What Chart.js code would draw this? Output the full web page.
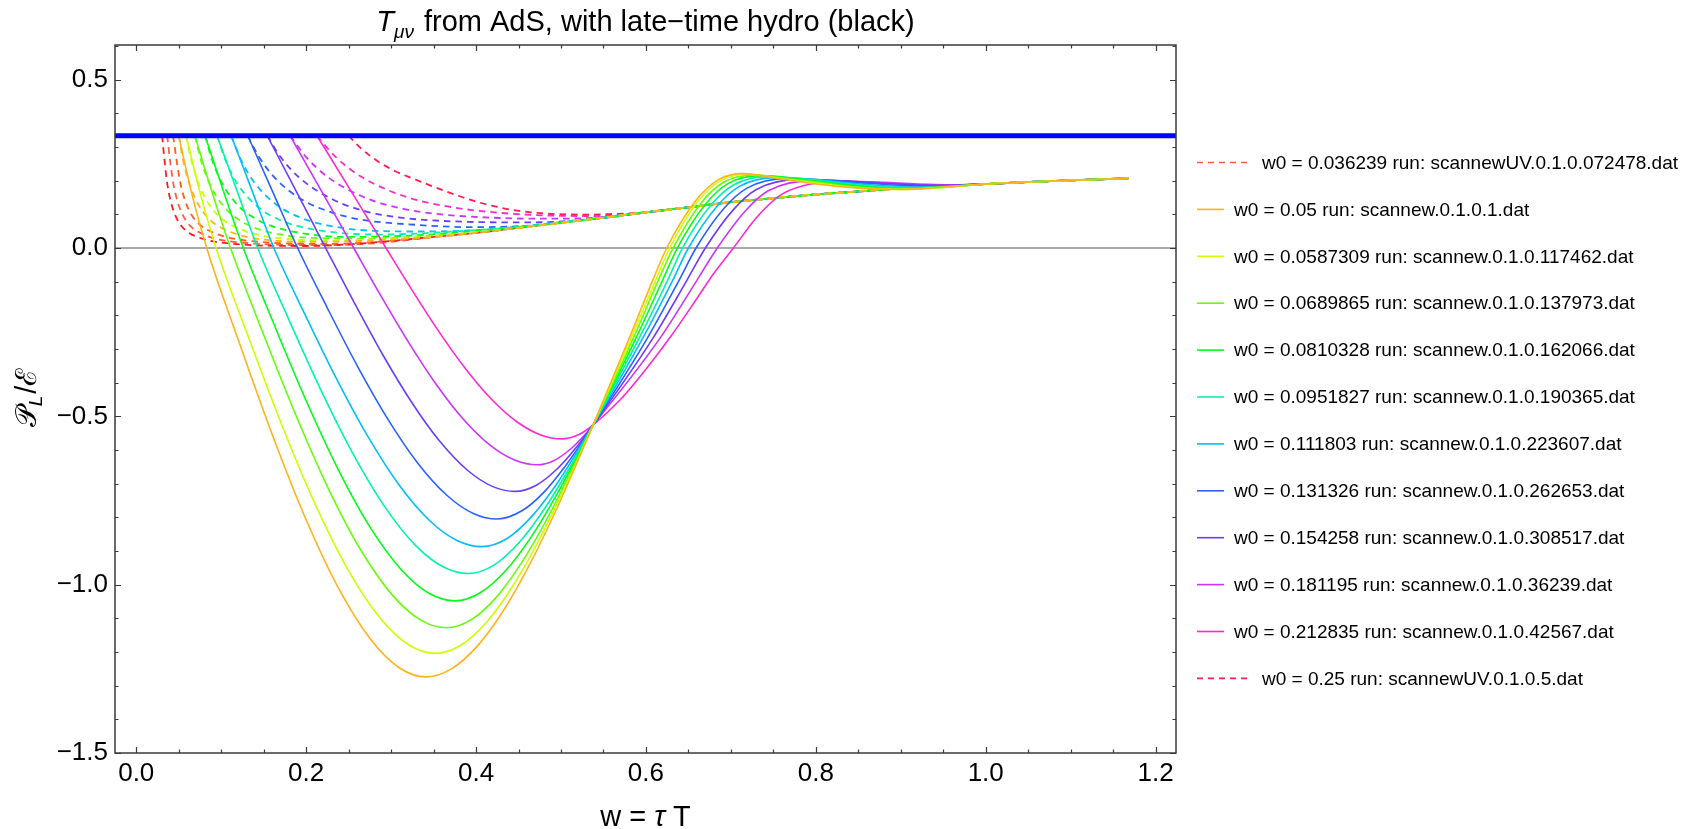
<!DOCTYPE html>
<html>
<head>
<meta charset="utf-8">
<title>T_mu_nu from AdS, with late-time hydro</title>
<script src="https://cdn.jsdelivr.net/npm/chart.js@4.4.1/dist/chart.umd.min.js"></script>
<style>
  html, body { margin: 0; padding: 0; background: #fff; }
  canvas { display: block; }
</style>
</head>
<body>
<canvas id="plChart" width="1699" height="829"></canvas>
<script>
// P_L / E versus w = tau T, one curve per AdS run
(function() {
  'use strict';

  // ---- axes ----
  var X_RANGE = [-0.025, 1.224];
  var Y_RANGE = [-1.5, 0.603];
  var X_TICKS = [0, 0.2, 0.4, 0.6, 0.8, 1.0, 1.2];
  var Y_TICKS = [-1.5, -1.0, -0.5, 0, 0.5];
  var HYDRO_LEVEL = [1 / 3];

  // ---- legend ----
  var LEGEND_LABELS = [
    'w0 = 0.036239 run: scannewUV.0.1.0.072478.dat',
    'w0 = 0.05 run: scannew.0.1.0.1.dat',
    'w0 = 0.0587309 run: scannew.0.1.0.117462.dat',
    'w0 = 0.0689865 run: scannew.0.1.0.137973.dat',
    'w0 = 0.0810328 run: scannew.0.1.0.162066.dat',
    'w0 = 0.0951827 run: scannew.0.1.0.190365.dat',
    'w0 = 0.111803 run: scannew.0.1.0.223607.dat',
    'w0 = 0.131326 run: scannew.0.1.0.262653.dat',
    'w0 = 0.154258 run: scannew.0.1.0.308517.dat',
    'w0 = 0.181195 run: scannew.0.1.0.36239.dat',
    'w0 = 0.212835 run: scannew.0.1.0.42567.dat',
    'w0 = 0.25 run: scannewUV.0.1.0.5.dat'
  ];
  var LEGEND_KEYS = ['uv0362', 's0', 's1', 's2', 's3', 's4', 's5', 's6', 's7', 's8', 's9', 'uv2500'];

  // ---- solid runs (w, P_L/E) ----
  var PL_W0_0500 = [[0.05,0.3333],[0.0649,0.1667],[0.083,0],[0.1217,-0.2845],[0.1604,-0.5561],[0.1991,-0.8019],[0.2378,-1.009],[0.2765,-1.1646],[0.31,-1.2476],[0.341,-1.274],[0.371,-1.25],[0.401,-1.184],[0.431,-1.082],[0.461,-0.95],[0.491,-0.796],[0.516,-0.655],[0.538,-0.525],[0.58,-0.27],[0.608,-0.096],[0.6245,0],[0.659,0.142],[0.686,0.204],[0.714,0.221],[0.757,0.206],[0.80,0.19],[0.85,0.178],[0.90,0.174],[0.95,0.181]];
  var PL_W0_0587 = [[0.0587,0.3333],[0.0749,0.1667],[0.094,0],[0.1327,-0.2689],[0.1714,-0.5255],[0.2101,-0.7578],[0.2488,-0.9536],[0.2875,-1.1006],[0.321,-1.1791],[0.352,-1.204],[0.382,-1.18],[0.412,-1.1125],[0.442,-1.009],[0.472,-0.878],[0.502,-0.725],[0.538,-0.525],[0.5823,-0.27],[0.6114,-0.096],[0.628,0],[0.661,0.138],[0.688,0.2],[0.72,0.219],[0.763,0.205],[0.80,0.193],[0.85,0.179],[0.90,0.174],[0.95,0.18]];
  var PL_W0_0690 = [[0.069,0.3333],[0.0892,0.1667],[0.111,0],[0.1491,-0.2519],[0.1872,-0.4924],[0.2253,-0.71],[0.2634,-0.8934],[0.3015,-1.0311],[0.3345,-1.1046],[0.365,-1.128],[0.395,-1.103],[0.425,-1.034],[0.455,-0.9295],[0.485,-0.798],[0.515,-0.6475],[0.538,-0.525],[0.5848,-0.27],[0.6146,-0.096],[0.632,0],[0.665,0.134],[0.692,0.196],[0.727,0.217],[0.77,0.205],[0.81,0.193],[0.85,0.181],[0.90,0.175],[0.95,0.18]];
  var PL_W0_0810 = [[0.081,0.3333],[0.103,0.1667],[0.126,0],[0.1634,-0.234],[0.2007,-0.4575],[0.2381,-0.6596],[0.2754,-0.83],[0.3128,-0.958],[0.3451,-1.0263],[0.375,-1.048],[0.405,-1.024],[0.435,-0.958],[0.465,-0.858],[0.495,-0.7326],[0.52,-0.6145],[0.538,-0.525],[0.5879,-0.27],[0.6195,-0.096],[0.637,0],[0.67,0.13],[0.697,0.192],[0.735,0.215],[0.78,0.205],[0.82,0.192],[0.86,0.182],[0.90,0.177],[0.95,0.181]];
  var PL_W0_0952 = [[0.0952,0.3333],[0.1191,0.1667],[0.143,0],[0.1802,-0.2159],[0.2174,-0.4221],[0.2546,-0.6086],[0.2918,-0.7659],[0.329,-0.8839],[0.3612,-0.947],[0.391,-0.967],[0.421,-0.942],[0.451,-0.874],[0.481,-0.773],[0.511,-0.649],[0.538,-0.525],[0.5916,-0.27],[0.6255,-0.096],[0.643,0],[0.676,0.126],[0.703,0.187],[0.744,0.212],[0.79,0.204],[0.83,0.192],[0.87,0.183],[0.91,0.179],[0.95,0.182]];
  var PL_W0_1118 = [[0.1118,0.3333],[0.1369,0.1667],[0.162,0],[0.1988,-0.1981],[0.2355,-0.3872],[0.2723,-0.5583],[0.309,-0.7025],[0.3458,-0.8108],[0.3776,-0.8686],[0.407,-0.887],[0.437,-0.862],[0.467,-0.7935],[0.497,-0.6934],[0.517,-0.614],[0.538,-0.525],[0.5958,-0.27],[0.6315,-0.096],[0.65,0],[0.683,0.122],[0.71,0.183],[0.754,0.209],[0.80,0.203],[0.84,0.193],[0.88,0.185],[0.92,0.181],[0.96,0.184]];
  var PL_W0_1313 = [[0.1313,0.3333],[0.1607,0.1667],[0.19,0],[0.2253,-0.1798],[0.2605,-0.3514],[0.2958,-0.5067],[0.331,-0.6376],[0.3663,-0.7359],[0.3968,-0.7884],[0.425,-0.805],[0.455,-0.779],[0.48,-0.725],[0.505,-0.648],[0.522,-0.587],[0.538,-0.525],[0.6012,-0.27],[0.639,-0.096],[0.659,0],[0.692,0.118],[0.719,0.178],[0.766,0.206],[0.81,0.202],[0.85,0.194],[0.89,0.187],[0.93,0.184],[0.96,0.185]];
  var PL_W0_1543 = [[0.1543,0.3333],[0.1887,0.1667],[0.223,0],[0.2565,-0.1614],[0.2899,-0.3156],[0.3234,-0.4551],[0.3568,-0.5726],[0.3903,-0.6609],[0.4192,-0.708],[0.446,-0.723],[0.471,-0.7046],[0.496,-0.655],[0.516,-0.5988],[0.538,-0.525],[0.6077,-0.27],[0.6482,-0.096],[0.67,0],[0.703,0.114],[0.73,0.174],[0.78,0.203],[0.82,0.201],[0.86,0.195],[0.90,0.189],[0.94,0.186],[0.97,0.187]];
  var PL_W0_1812 = [[0.1812,0.3333],[0.2186,0.1667],[0.256,0],[0.2884,-0.1438],[0.3208,-0.2811],[0.3532,-0.4053],[0.3856,-0.51],[0.418,-0.5887],[0.4461,-0.6307],[0.472,-0.644],[0.492,-0.631],[0.512,-0.5955],[0.527,-0.5575],[0.538,-0.525],[0.616,-0.27],[0.66,-0.096],[0.684,0],[0.717,0.11],[0.744,0.17],[0.798,0.2],[0.84,0.199],[0.88,0.195],[0.92,0.19],[0.96,0.188]];
  var PL_W0_2128 = [[0.2128,0.3333],[0.2534,0.1667],[0.294,0],[0.3251,-0.1266],[0.3561,-0.2475],[0.3872,-0.3569],[0.4182,-0.4491],[0.4493,-0.5183],[0.4762,-0.5553],[0.501,-0.567],[0.521,-0.554],[0.538,-0.525],[0.57,-0.45],[0.60,-0.36],[0.63,-0.26],[0.66,-0.15],[0.68,-0.075],[0.703,0],[0.73,0.09],[0.757,0.155],[0.785,0.185],[0.825,0.197],[0.87,0.194],[0.92,0.188],[0.96,0.187]];
  var SOLID_TAIL = [[1.0,0.190],[1.05,0.196],[1.1,0.201],[1.168,0.207]];

  // ---- dashed runs ----
  var UV_W0_0305 = [[0.0305,0.3333],[0.0335,0.255],[0.0366,0.19],[0.041,0.135],[0.046,0.097],[0.053,0.066],[0.061,0.047],[0.076,0.029],[0.092,0.019],[0.122,0.011],[0.153,0.007],[0.2,0.006],[0.25,0.011],[0.3,0.021]];
  var UV_W0_0362 = [[0.0365,0.3333],[0.04,0.255],[0.0438,0.19],[0.049,0.135],[0.055,0.097],[0.063,0.067],[0.073,0.048],[0.09,0.03],[0.11,0.02],[0.146,0.012],[0.183,0.009],[0.235,0.009],[0.29,0.016]];
  var UV_W0_0435 = [[0.0435,0.3333],[0.0478,0.255],[0.0522,0.19],[0.058,0.137],[0.065,0.099],[0.075,0.069],[0.087,0.05],[0.107,0.032],[0.13,0.022],[0.174,0.014],[0.218,0.012],[0.27,0.016],[0.32,0.026]];
  var DS_W0_0500 = [[0.05,0.3333],[0.055,0.263],[0.0625,0.191],[0.075,0.121],[0.0875,0.082],[0.1,0.06],[0.125,0.036],[0.15,0.025],[0.2,0.018],[0.25,0.02],[0.3,0.025]];
  var DS_W0_0587 = [[0.0587,0.3333],[0.0646,0.263],[0.0734,0.191],[0.088,0.121],[0.1027,0.083],[0.1174,0.061],[0.1468,0.037],[0.176,0.027],[0.235,0.022],[0.2935,0.027],[0.35,0.035],[0.4,0.046]];
  var DS_W0_0690 = [[0.069,0.3333],[0.0759,0.263],[0.0863,0.191],[0.1035,0.122],[0.1208,0.084],[0.138,0.061],[0.1725,0.039],[0.207,0.03],[0.276,0.028],[0.345,0.037],[0.4,0.047]];
  var DS_W0_0810 = [[0.081,0.3333],[0.0891,0.263],[0.1013,0.191],[0.1215,0.122],[0.1418,0.085],[0.162,0.063],[0.2025,0.041],[0.243,0.033],[0.324,0.037],[0.405,0.052],[0.45,0.062]];
  var DS_W0_0952 = [[0.0952,0.3333],[0.1047,0.263],[0.119,0.191],[0.1428,0.123],[0.1666,0.086],[0.1904,0.065],[0.238,0.045],[0.2856,0.04],[0.381,0.05],[0.45,0.063]];
  var DS_W0_1118 = [[0.1118,0.3333],[0.123,0.263],[0.1398,0.192],[0.1677,0.124],[0.1957,0.088],[0.2236,0.068],[0.2795,0.051],[0.3354,0.049],[0.4,0.053],[0.447,0.063],[0.5,0.077]];
  var DS_W0_1313 = [[0.1313,0.3333],[0.1444,0.271],[0.1641,0.206],[0.197,0.141],[0.2298,0.106],[0.2626,0.085],[0.3283,0.069],[0.394,0.062],[0.46,0.066],[0.525,0.083]];
  var DS_W0_1543 = [[0.1543,0.3333],[0.1697,0.271],[0.1929,0.207],[0.2315,0.144],[0.27,0.109],[0.3086,0.091],[0.3858,0.078],[0.463,0.076],[0.52,0.082],[0.56,0.092]];
  var DS_W0_1812 = [[0.1812,0.3333],[0.1993,0.272],[0.2265,0.209],[0.2718,0.147],[0.3171,0.115],[0.3624,0.099],[0.42,0.09],[0.47,0.087],[0.52,0.088],[0.56,0.094]];
  var DS_W0_2128 = [[0.2128,0.3333],[0.234,0.272],[0.266,0.21],[0.319,0.151],[0.3724,0.121],[0.4256,0.105],[0.48,0.097],[0.532,0.095],[0.58,0.1],[0.62,0.112]];
  var UV_W0_2500 = [[0.25,0.3333],[0.265,0.295],[0.286,0.255],[0.305,0.228],[0.326,0.206],[0.345,0.187],[0.365,0.168],[0.385,0.15],[0.404,0.135],[0.425,0.122],[0.443,0.113],[0.465,0.106],[0.483,0.102],[0.505,0.1],[0.53,0.099],[0.56,0.101],[0.6,0.106]];
  // late-time curve all runs settle onto
  var LATE_TIME = [[0.35,0.033],[0.4,0.045],[0.45,0.060],[0.5,0.075],[0.55,0.090],[0.6,0.106],[0.65,0.121],[0.7,0.136],[0.75,0.148],[0.8,0.159],[0.85,0.168],[0.9,0.177],[0.95,0.184],[1.0,0.190],[1.05,0.196],[1.1,0.201],[1.168,0.207]];

  // ---- styles ----
  var FONT = '"Liberation Sans", Arial, Helvetica, sans-serif';
  var SOLID_COLORS = ['hsl(40,100%,55%)', 'hsl(72,100%,50%)', 'hsl(98,100%,52%)', 'hsl(125,100%,50%)',
    'hsl(162,100%,48%)', 'hsl(195,100%,50%)', 'hsl(224,100%,58%)', 'hsl(254,100%,62%)',
    'hsl(285,100%,60%)', 'hsl(313,100%,58%)'];
  var DASH = [6.5, 5];

  function toPoints(head, tail) {
    var lastX = head[head.length - 1][0];
    var rest = tail ? tail.filter(function(p) { return p[0] > lastX + 0.01; }) : [];
    return head.concat(rest).map(function(p) {
      return { x: p[0], y: p[1] };
    });
  }

  function fmtTick(value) {
    return value.toFixed(1).replace('-', '\u2212');
  }

  var solidRuns = [PL_W0_0500, PL_W0_0587, PL_W0_0690, PL_W0_0810, PL_W0_0952,
    PL_W0_1118, PL_W0_1313, PL_W0_1543, PL_W0_1812, PL_W0_2128];
  var companionRuns = [DS_W0_0500, DS_W0_0587, DS_W0_0690, DS_W0_0810, DS_W0_0952,
    DS_W0_1118, DS_W0_1313, DS_W0_1543, DS_W0_1812, DS_W0_2128];

  var datasets = [];

  // thick blue line at the conformal value
  datasets.push({
    key: 'hydro',
    data: [{ x: X_RANGE[0], y: HYDRO_LEVEL[0] }, { x: X_RANGE[1], y: HYDRO_LEVEL[0] }],
    borderColor: '#0000ff',
    borderWidth: 5
  });

  solidRuns.forEach(function(run, i) {
    datasets.push({
      key: 's' + i,
      data: toPoints(run, SOLID_TAIL),
      borderColor: SOLID_COLORS[i],
      borderWidth: 1.6
    });
  });

  companionRuns.forEach(function(run, i) {
    datasets.push({
      key: 'd' + i,
      data: toPoints(run, LATE_TIME),
      borderColor: SOLID_COLORS[i],
      borderWidth: 1.8,
      borderDash: DASH
    });
  });

  [[UV_W0_0305, 'uv0305', 'hsl(0,100%,55%)'],
   [UV_W0_0362, 'uv0362', 'hsl(10,100%,62%)'],
   [UV_W0_0435, 'uv0435', 'hsl(18,100%,55%)'],
   [UV_W0_2500, 'uv2500', 'hsl(346,100%,55%)']].forEach(function(r) {
    datasets.push({
      key: r[1],
      data: toPoints(r[0], LATE_TIME),
      borderColor: r[2],
      borderWidth: 1.8,
      borderDash: DASH
    });
  });

  function findDataset(chart, key) {
    var list = chart.data.datasets;
    for (var i = 0; i < list.length; i++) {
      if (list[i].key === key) return list[i];
    }
    return null;
  }

  // draw a run of text pieces with different fonts, returns width
  function drawPieces(ctx, pieces, x, y, measureOnly) {
    var cx = x;
    pieces.forEach(function(p) {
      ctx.font = p.font;
      if (!measureOnly) ctx.fillText(p.text, cx, y + (p.dy || 0));
      cx += ctx.measureText(p.text).width + (p.gap || 0);
    });
    return cx - x;
  }

  function drawTitles(chart) {
    var ctx = chart.ctx;
    var a = chart.chartArea;
    var midX = (a.left + a.right) / 2;
    ctx.save();
    ctx.fillStyle = '#000';
    ctx.textBaseline = 'alphabetic';
    ctx.textAlign = 'left';

    var title = [
      { text: 'T', font: 'italic 29px ' + FONT },
      { text: '\u03bc\u03bd', font: 'italic 19px ' + FONT, dy: 7, gap: 2 },
      { text: ' from AdS, with late\u2212time hydro (black)', font: '29px ' + FONT }
    ];
    var w = drawPieces(ctx, title, 0, 0, true);
    drawPieces(ctx, title, midX - w / 2, 31);

    var xTitle = [
      { text: 'w = ', font: '29px ' + FONT },
      { text: '\u03c4', font: 'italic 29px ' + FONT },
      { text: ' T', font: '29px ' + FONT }
    ];
    w = drawPieces(ctx, xTitle, 0, 0, true);
    drawPieces(ctx, xTitle, midX - w / 2, 826);

    var yTitle = [
      { text: '\ud835\udcab', font: '29px ' + FONT },
      { text: 'L', font: 'italic 19px ' + FONT, dy: 6, gap: 2 },
      { text: '/\u2130', font: '29px ' + FONT }
    ];
    ctx.translate(36, 398);
    ctx.rotate(-Math.PI / 2);
    w = drawPieces(ctx, yTitle, 0, 0, true);
    drawPieces(ctx, yTitle, -w / 2, 0);
    ctx.restore();
  }

  function drawLegend(chart) {
    var ctx = chart.ctx;
    ctx.save();
    ctx.font = '19px ' + FONT;
    ctx.textBaseline = 'middle';
    ctx.textAlign = 'left';
    LEGEND_KEYS.forEach(function(key, k) {
      var ds = findDataset(chart, key);
      var y = 162.5 + k * 46.9;
      var dashed = ds.borderDash && ds.borderDash.length > 0;
      ctx.strokeStyle = ds.borderColor;
      ctx.lineWidth = 1.6;
      ctx.setLineDash(dashed ? [6, 5] : []);
      ctx.beginPath();
      ctx.moveTo(1197, y);
      ctx.lineTo(dashed ? 1250 : 1224, y);
      ctx.stroke();
      ctx.setLineDash([]);
      ctx.fillStyle = '#000';
      ctx.fillText(LEGEND_LABELS[k], dashed ? 1262 : 1234, y + 1);
    });
    ctx.restore();
  }

  // Mathematica-like frame: box with inward ticks on all four sides
  function drawFrame(chart) {
    var ctx = chart.ctx;
    var a = chart.chartArea;
    var xs = chart.scales.x;
    var ys = chart.scales.y;
    var k, v, px, len, major;
    ctx.save();
    ctx.strokeStyle = '#3a3a3a';
    ctx.lineWidth = 1.5;
    ctx.strokeRect(a.left, a.top, a.right - a.left, a.bottom - a.top);
    ctx.lineWidth = 1.2;
    ctx.beginPath();
    for (k = Math.ceil(xs.min / 0.05); k * 0.05 <= xs.max + 1e-9; k++) {
      v = k * 0.05;
      major = Math.abs(v / 0.2 - Math.round(v / 0.2)) < 1e-6;
      len = major ? 6 : 3.5;
      px = Math.round(xs.getPixelForValue(v)) + 0.5;
      ctx.moveTo(px, a.bottom); ctx.lineTo(px, a.bottom - len);
      ctx.moveTo(px, a.top); ctx.lineTo(px, a.top + len);
    }
    for (k = Math.ceil(ys.min / 0.1 - 1e-9); k * 0.1 <= ys.max + 1e-9; k++) {
      v = k * 0.1;
      major = Math.abs(v / 0.5 - Math.round(v / 0.5)) < 1e-6;
      len = major ? 6 : 3.5;
      px = Math.round(ys.getPixelForValue(v)) + 0.5;
      ctx.moveTo(a.left, px); ctx.lineTo(a.left + len, px);
      ctx.moveTo(a.right, px); ctx.lineTo(a.right - len, px);
    }
    ctx.stroke();
    ctx.restore();
  }

  var mmaDecor = {
    id: 'mmaDecor',
    beforeDatasetsDraw: function(chart) {
      var ctx = chart.ctx;
      var a = chart.chartArea;
      var y0 = chart.scales.y.getPixelForValue(0);
      ctx.save();
      ctx.strokeStyle = '#8c8c8c';
      ctx.lineWidth = 1.4;
      ctx.beginPath();
      ctx.moveTo(a.left, y0);
      ctx.lineTo(a.right, y0);
      ctx.stroke();
      ctx.restore();
    },
    afterDatasetsDraw: function(chart) {
      drawFrame(chart);
    },
    afterDraw: function(chart) {
      drawTitles(chart);
      drawLegend(chart);
    }
  };

  var ctx = document.getElementById('plChart').getContext('2d');
  new Chart(ctx, {
    type: 'line',
    data: { datasets: datasets },
    plugins: [mmaDecor],
    options: {
      responsive: false,
      animation: false,
      devicePixelRatio: 1,
      layout: { padding: { top: 45, right: 523, bottom: 0, left: 0 } },
      elements: {
        point: { radius: 0, hoverRadius: 0 },
        line: { cubicInterpolationMode: 'monotone', fill: false, capBezierPoints: false }
      },
      plugins: {
        legend: { display: false },
        title: { display: false },
        tooltip: { enabled: false }
      },
      scales: {
        x: {
          type: 'linear',
          min: X_RANGE[0],
          max: X_RANGE[1],
          grid: { display: false, drawTicks: false },
          border: { display: false },
          afterBuildTicks: function(scale) {
            scale.ticks = X_TICKS.map(function(v) { return { value: v }; });
          },
          afterFit: function(scale) {
            scale.height = 76;
            scale.paddingLeft = 0;
            scale.paddingRight = 0;
          },
          ticks: {
            autoSkip: false,
            maxRotation: 0,
            padding: 5,
            color: '#000',
            font: { family: FONT, size: 26 },
            callback: fmtTick
          }
        },
        y: {
          type: 'linear',
          min: Y_RANGE[0],
          max: Y_RANGE[1],
          grid: { display: false, drawTicks: false },
          border: { display: false },
          afterBuildTicks: function(scale) {
            scale.ticks = Y_TICKS.map(function(v) { return { value: v }; });
          },
          afterFit: function(scale) {
            scale.width = 115;
            scale.paddingTop = 0;
            scale.paddingBottom = 0;
          },
          ticks: {
            padding: 7,
            color: '#000',
            font: { family: FONT, size: 26 },
            callback: fmtTick
          }
        }
      }
    }
  });
})();
</script>
</body>
</html>
